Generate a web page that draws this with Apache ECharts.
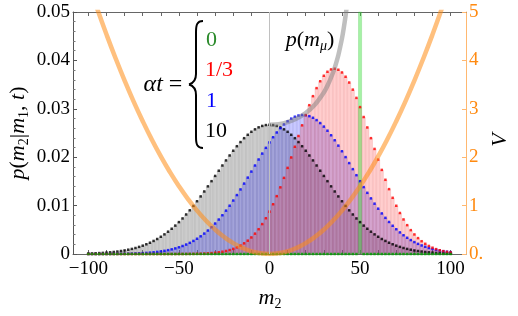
<!DOCTYPE html>
<html><head><meta charset="utf-8">
<script src="https://cdn.jsdelivr.net/npm/echarts@6/dist/echarts.min.js"></script>
<style>html,body{margin:0;padding:0;background:#fff}#c{width:518px;height:316px}</style>
</head><body><div id="c"></div>
<script>
// bin centres (m2)
const bins = [-100,-98,-96,-94,-92,-90,-88,-86,-84,-82,-80,-78,-76,-74,-72,-70,-68,-66,-64,-62,-60,-58,-56,-54,-52,-50,-48,-46,-44,-42,-40,-38,-36,-34,-32,-30,-28,-26,-24,-22,-20,-18,-16,-14,-12,-10,-8,-6,-4,-2,0,2,4,6,8,10,12,14,16,18,20,22,24,26,28,30,32,34,36,38,40,42,44,46,48,50,52,54,56,58,60,62,64,66,68,70,72,74,76,78,80,82,84,86,88,90,92,94,96,98,100];
// alpha t = 10
const pT10 = [0.00010,0.00012,0.00015,0.00019,0.00023,0.00029,0.00035,0.00042,0.00051,0.00062,0.00074,0.00089,0.00105,0.00124,0.00147,0.00172,0.00201,0.00233,0.00270,0.00310,0.00356,0.00406,0.00461,0.00522,0.00587,0.00659,0.00735,0.00817,0.00903,0.00994,0.01090,0.01190,0.01292,0.01398,0.01505,0.01613,0.01721,0.01829,0.01934,0.02036,0.02134,0.02227,0.02313,0.02393,0.02463,0.02525,0.02576,0.02617,0.02646,0.02664,
0.02670,0.02664,0.02646,0.02617,0.02576,0.02525,0.02463,0.02393,0.02313,0.02227,0.02134,0.02036,0.01934,0.01829,0.01721,0.01613,0.01505,0.01398,0.01292,0.01190,0.01090,0.00994,0.00903,0.00817,0.00735,0.00659,0.00587,0.00522,0.00461,0.00406,0.00356,0.00310,0.00270,0.00233,0.00201,0.00172,0.00147,0.00124,0.00105,0.00089,0.00074,0.00062,0.00051,0.00042,0.00035,0.00029,0.00023,0.00019,0.00015,0.00012,0.00010];
// alpha t = 1
const pT1 = [0.000003,0.000004,0.000006,0.000008,0.000011,0.000014,0.000019,0.000025,0.000032,0.000042,0.000054,0.000070,0.000089,0.000114,0.000144,0.000182,0.000228,0.000285,0.000354,0.000437,0.000536,0.000655,0.000796,0.000963,0.001159,0.001387,0.001652,0.001957,0.002306,0.002704,0.003155,0.003660,0.004224,0.004852,0.005543,0.006299,0.007123,0.008011,0.008964,0.009979,0.011051,0.012175,0.013345,0.014552,0.015784,0.017034,0.018287,0.019531,0.020751,0.021934,
0.023064,0.024128,0.025111,0.025997,0.026776,0.027437,0.027968,0.028362,0.028613,0.028717,0.028672,0.028480,0.028142,0.027665,0.027056,0.026323,0.025478,0.024532,0.023500,0.022394,0.021230,0.020023,0.018787,0.017535,0.016283,0.015042,0.013824,0.012639,0.011495,0.010401,0.009363,0.008385,0.007470,0.006620,0.005836,0.005121,0.004467,0.003878,0.003349,0.002878,0.002459,0.002091,0.001769,0.001489,0.001246,0.001038,0.000860,0.000709,0.000581,0.000474,0.000385];
// alpha t = 1/3
const pT13 = [0,0,0,0,0,0,0,0,0,0,0,0,0,0,0,0,0,0,0,0,0.000001,0.000002,0.000002,0.000004,0.000005,0.000008,0.000012,0.000017,0.000025,0.000036,0.000051,0.000073,0.000101,0.000141,0.000193,0.000263,0.000354,0.000472,0.000625,0.000819,0.001064,0.001369,0.001746,0.002205,0.002761,0.003424,0.004209,0.005125,0.006184,0.007394,
0.008760,0.010281,0.011956,0.013777,0.015730,0.017797,0.019948,0.022157,0.024382,0.026585,0.028723,0.030748,0.032613,0.034275,0.035692,0.036827,0.037649,0.038138,0.038278,0.038068,0.037511,0.036624,0.035430,0.033961,0.032254,0.030353,0.028302,0.026148,0.023936,0.021710,0.019512,0.017375,0.015330,0.013402,0.011610,0.009964,0.008473,0.007140,0.005961,0.004932,0.004042,0.003283,0.002642,0.002107,0.001664,0.001302,0.001010,0.000777,0.000591,0.000446,0.000334];
// alpha t = 0
const pT0 = [0,0,0,0,0,0,0,0,0,0,0,0,0,0,0,0,0,0,0,0,0,0,0,0,0,
0,0,0,0,0,0,0,0,0,0,0,0,0,0,0,0,0,0,0,0,0,0,0,0,0,
0,0,0,0,0,0,0,0,0,0,0,0,0,0,0,0,0,0,0,0,0,0,0,0,0,
1,
0,0,0,0,0,0,0,0,0,0,0,0,0,0,0,0,0,0,0,0,0,0,0,0,0];
// potential V(m2)
const vM = [-100,-95,-90,-85,-80,-75,-70,-65,-60,-55,-50,-45,-40,-35,-30,-25,-20,-15,-10,-5,0,5,10,15,20,25,30,35,40,45,50,55,60,65,70,75,80,85,90,95,100];
const vVal = [5.599,5.053,4.535,4.045,3.583,3.149,2.744,2.366,2.016,1.694,1.400,1.134,0.896,0.686,0.504,0.350,0.224,0.126,0.056,0.014,0,0.014,0.056,0.126,0.224,0.350,0.504,0.686,0.896,1.134,1.400,1.694,2.016,2.366,2.744,3.149,3.583,4.045,4.535,5.053,5.599];
// p(m_mu) trajectory of the peak
const peakM = [0,5,10,15,20,25,30,32,35,36,38,40,41,42,43,44];
const peakP = [0.0267,0.02683,0.02725,0.02799,0.02913,0.03083,0.03338,0.03475,0.03739,0.03847,0.04108,0.0445,0.04665,0.0492,0.05232,0.05621];
// ticks
const xLabels = [-100,-50,0,50,100];
const xTicks = [-100,-90,-80,-70,-60,-50,-40,-30,-20,-10,0,10,20,30,40,50,60,70,80,90,100];

const SERIF = 'Liberation Serif';
const pairs = arr => bins.map((m,i)=>[m, arr[i]]);
const barW = 3.62;
function barSeries(arr, fill, edge){
  return {type:'bar', data:pairs(arr), barWidth:barW, barGap:'-100%', xAxisIndex:0, yAxisIndex:0,
    itemStyle:{color:fill, borderColor:edge, borderWidth:0.5}, silent:true, clip:true};
}
function dotSeries(arr, color){
  return {type:'scatter', data:pairs(arr), symbol:'rect', symbolSize:2.5, itemStyle:{color:color}, silent:true, clip:true, xAxisIndex:0, yAxisIndex:0};
}
const fmtX = v => v < 0 ? '\u2212' + (-v) : String(v);
const grayBars = barSeries(pT10, 'rgba(128,128,128,0.40)', 'rgba(90,90,90,0.35)');
grayBars.markLine = {silent:true, symbol:'none', label:{show:false}, animation:false,
  lineStyle:{color:'#c0c0c0', width:1, type:'solid'}, data:[{xAxis:0}]};

const braceStyle = {fill:'none', stroke:'#000', lineWidth:2};
const chart = echarts.init(document.getElementById('c'), null, {renderer:'canvas'});
chart.setOption({
  animation:false,
  grid:{left:73, right:52, top:12, bottom:62, containLabel:false},
  xAxis:[
    {type:'value', position:'bottom', min:-108.5, max:108.5,
     axisLine:{show:true, onZero:false, lineStyle:{color:'#666', width:1}},
     axisTick:{show:true, inside:true, length:4, customValues:xTicks, lineStyle:{color:'#666'}},
     axisLabel:{customValues:xLabels, formatter:fmtX, fontFamily:SERIF, fontSize:19, color:'#000', margin:6},
     splitLine:{show:false}},
    {type:'value', position:'top', min:-108.5, max:108.5,
     axisLine:{show:true, onZero:false, lineStyle:{color:'#666', width:1}},
     axisTick:{show:true, inside:true, length:4, customValues:xTicks, lineStyle:{color:'#666'}},
     axisLabel:{show:false}, splitLine:{show:false}}
  ],
  yAxis:[
    {type:'value', position:'left', min:0, max:0.05, interval:0.01,
     axisLine:{show:true, onZero:false, lineStyle:{color:'#555', width:1}},
     axisTick:{show:true, inside:true, length:4, lineStyle:{color:'#555'}},
     minorTick:{show:true, splitNumber:5, length:2.5, lineStyle:{color:'#777'}},
     axisLabel:{formatter:v => v===0 ? '0' : v.toFixed(2), fontFamily:SERIF, fontSize:19, color:'#000', margin:3},
     splitLine:{show:false}},
    {type:'value', position:'right', min:0, max:5, interval:1,
     axisLine:{show:true, onZero:false, lineStyle:{color:'#ffb870', width:1}},
     axisTick:{show:true, inside:true, length:4, lineStyle:{color:'#ffb870'}},
     axisLabel:{formatter:v => v===0 ? '0.' : String(v), fontFamily:SERIF, fontSize:19, color:'#ff8a10', margin:3},
     splitLine:{show:false}}
  ],
  series:[
    grayBars,
    barSeries(pT1, 'rgba(40,40,255,0.25)', 'rgba(40,40,200,0.3)'),
    barSeries(pT13, 'rgba(255,30,30,0.22)', 'rgba(220,60,60,0.3)'),
    barSeries(pT0, 'rgba(40,225,40,0.42)', 'rgba(40,180,40,0.4)'),
    {type:'line', yAxisIndex:1, data:vM.map((m,i)=>[m, vVal[i]]), smooth:true, showSymbol:false, clip:true, silent:true,
     lineStyle:{color:'rgba(255,140,20,0.55)', width:4.5}},
    {type:'line', yAxisIndex:0, data:peakM.map((m,i)=>[m, peakP[i]]), smooth:0.3, showSymbol:false, clip:true, silent:true,
     lineStyle:{color:'rgba(128,128,128,0.5)', width:4.5}},
    dotSeries(pT10, '#000'),
    dotSeries(pT1, '#0000ff'),
    dotSeries(pT13, '#ff0000'),
    dotSeries(pT0, '#00a000')
  ],
  graphic:[
    {type:'text', x:18, y:133, rotation:Math.PI/2,
     style:{text:'{i|p}{n|(}{i|m}{s|2}{n||}{i|m}{s|1}{n|, }{i|t}{n|)}', textAlign:'center', textVerticalAlign:'middle',
       rich:{i:{fontFamily:SERIF, fontStyle:'italic', fontSize:22, verticalAlign:'middle'},
             n:{fontFamily:SERIF, fontSize:22, verticalAlign:'middle'},
             s:{fontFamily:SERIF, fontSize:14, verticalAlign:'middle', padding:[13,0,0,0]}}}},
    {type:'text', x:270, y:298,
     style:{text:'{i|m}{s|2}', textAlign:'center', textVerticalAlign:'middle',
       rich:{i:{fontFamily:SERIF, fontStyle:'italic', fontSize:22, verticalAlign:'middle'},
             s:{fontFamily:SERIF, fontSize:14, verticalAlign:'middle', padding:[13,0,0,0]}}}},
    {type:'text', x:500, y:140, rotation:Math.PI/2,
     style:{text:'V', font:'italic 22px "Liberation Serif"', textAlign:'center', textVerticalAlign:'middle', fill:'#000'}},
    {type:'text', x:163, y:85,
     style:{text:'{i|αt}{n|=}', textAlign:'center', textVerticalAlign:'middle',
       rich:{i:{fontFamily:SERIF, fontStyle:'italic', fontSize:24}, n:{fontFamily:SERIF, fontSize:24, padding:[0,0,0,6]}}}},
    {type:'bezierCurve', shape:{x1:203, y1:21, cpx1:197, cpy1:21, cpx2:196, cpy2:25, x2:196, y2:32}, style:braceStyle},
    {type:'line', shape:{x1:196, y1:32, x2:196, y2:74}, style:braceStyle},
    {type:'bezierCurve', shape:{x1:196, y1:74, cpx1:196, cpy1:80, cpx2:194, cpy2:83, x2:189, y2:84.5}, style:braceStyle},
    {type:'bezierCurve', shape:{x1:189, y1:84.5, cpx1:194, cpy1:86, cpx2:196, cpy2:89, x2:196, y2:95}, style:braceStyle},
    {type:'line', shape:{x1:196, y1:95, x2:196, y2:137}, style:braceStyle},
    {type:'bezierCurve', shape:{x1:196, y1:137, cpx1:196, cpy1:144, cpx2:197, cpy2:148, x2:203, y2:148}, style:braceStyle},
    {type:'text', x:206, y:40, style:{text:'0', font:'22px "Liberation Serif"', fill:'#2a8a2a', textAlign:'left', textVerticalAlign:'middle'}},
    {type:'text', x:205, y:70, style:{text:'1/3', font:'22px "Liberation Serif"', fill:'#ff0000', textAlign:'left', textVerticalAlign:'middle'}},
    {type:'text', x:206, y:101, style:{text:'1', font:'22px "Liberation Serif"', fill:'#0000ff', textAlign:'left', textVerticalAlign:'middle'}},
    {type:'text', x:205, y:131, style:{text:'10', font:'22px "Liberation Serif"', fill:'#000', textAlign:'left', textVerticalAlign:'middle'}},
    {type:'text', x:310, y:40,
     style:{text:'{i|p}{n|(}{i|m}{s|μ}{n|)}', textAlign:'center', textVerticalAlign:'middle',
       rich:{i:{fontFamily:SERIF, fontStyle:'italic', fontSize:22, verticalAlign:'middle'},
             n:{fontFamily:SERIF, fontSize:22, verticalAlign:'middle'},
             s:{fontFamily:SERIF, fontStyle:'italic', fontSize:14, verticalAlign:'middle', padding:[13,0,0,0]}}}}
  ]
});
</script>
</body></html>
